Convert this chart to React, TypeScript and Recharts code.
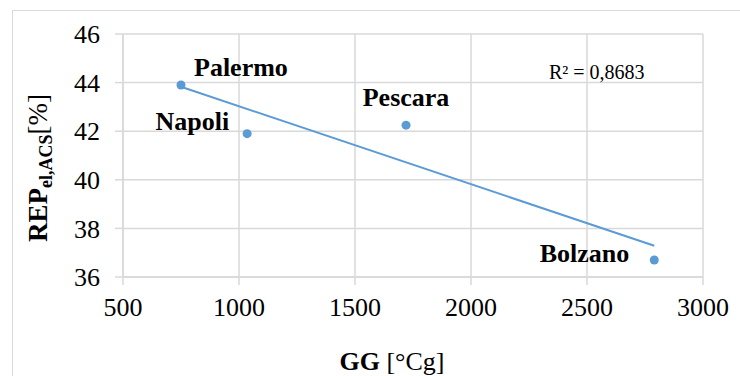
import {
  CartesianGrid,
  Label,
  ReferenceLine,
  Scatter,
  ScatterChart,
  XAxis,
  YAxis,
} from 'recharts';

const cities = ['Palermo', 'Napoli', 'Pescara', 'Bolzano'];
const degreeDays = [750, 1035, 1720, 2790];
const repValues = [43.9, 41.9, 42.25, 36.7];
const xTicks = [500, 1000, 1500, 2000, 2500, 3000];
const yTicks = [36, 38, 40, 42, 44, 46];
const rSquaredText = 'R² = 0,8683';

const data = cities.map((name, i) => ({ name, x: degreeDays[i], y: repValues[i] }));

// least squares trend line through the points
const n = degreeDays.length;
const meanX = degreeDays.reduce((s, v) => s + v, 0) / n;
const meanY = repValues.reduce((s, v) => s + v, 0) / n;
let sxy = 0;
let sxx = 0;
degreeDays.forEach((x, i) => {
  sxy += (x - meanX) * (repValues[i] - meanY);
  sxx += (x - meanX) * (x - meanX);
});
const slope = sxy / sxx;
const x0 = Math.min(...degreeDays);
const x1 = Math.max(...degreeDays);
const trend = [
  { x: x0, y: meanY + slope * (x0 - meanX) },
  { x: x1, y: meanY + slope * (x1 - meanX) },
];

const BLUE = '#5b9bd5';
const GRID = '#d9d9d9';
const FONT = '"Liberation Serif", "Times New Roman", serif';

const labelPos: Record<string, { dx: number; dy: number; anchor: 'start' | 'middle' | 'end' }> = {
  Palermo: { dx: 13, dy: -9, anchor: 'start' },
  Napoli: { dx: -18, dy: -4, anchor: 'end' },
  Pescara: { dx: 0, dy: -19, anchor: 'middle' },
  Bolzano: { dx: -25, dy: 2, anchor: 'end' },
};

function PointShape(props: any) {
  const { cx, cy, payload } = props;
  const p = labelPos[payload.name];
  return (
    <g>
      <circle cx={cx} cy={cy} r={4.5} fill={BLUE} />
      <text
        x={cx + p.dx}
        y={cy + p.dy}
        textAnchor={p.anchor}
        fontFamily={FONT}
        fontWeight="bold"
        fontSize={26}
        fill="#000"
      >
        {payload.name}
      </text>
    </g>
  );
}

function XTick(props: any) {
  const { x, y, payload } = props;
  return (
    <text x={x} y={y} dy="0.71em" textAnchor="middle" style={{ fontFamily: FONT }} fontSize={26} fill="#000">
      {payload.value}
    </text>
  );
}

function YTick(props: any) {
  const { x, y, payload } = props;
  return (
    <text x={x} y={y} dy="0.355em" textAnchor="end" style={{ fontFamily: FONT }} fontSize={26} fill="#000">
      {payload.value}
    </text>
  );
}

export default function App() {
  return (
    <div
      style={{
        position: 'relative',
        width: 740,
        height: 376,
        overflow: 'hidden',
        background: '#fff',
        fontFamily: FONT,
      }}
    >
      <style>{`body{margin:0} .recharts-wrapper svg text{font-family:${FONT} !important}`}</style>
      <div
        style={{
          position: 'absolute',
          left: 12,
          top: 10,
          width: 800,
          height: 400,
          border: `1.5px solid ${GRID}`,
        }}
      />
      <div style={{ position: 'absolute', left: 0, top: 0 }}>
        <ScatterChart
          width={740}
          height={376}
          margin={{ top: 34, right: 37, bottom: 39, left: 43 }}
          style={{ fontFamily: FONT }}
        >
          <CartesianGrid stroke={GRID} strokeWidth={1.5} />
          <XAxis
            type="number"
            dataKey="x"
            domain={[500, 3000]}
            ticks={xTicks}
            interval={0}
            height={60}
            stroke={GRID}
            strokeWidth={1.5}
            tickSize={8}
            tickMargin={13}
            tick={<XTick />}
          >
            <Label
              content={() => (
                <text x={392} y={370} textAnchor="middle" fontFamily={FONT} fontSize={26} fill="#000">
                  <tspan fontWeight="bold">GG</tspan>
                  <tspan> [°Cg]</tspan>
                </text>
              )}
            />
          </XAxis>
          <YAxis
            type="number"
            dataKey="y"
            domain={[36, 46]}
            ticks={yTicks}
            interval={0}
            width={80}
            stroke={GRID}
            strokeWidth={1.5}
            tickSize={8}
            tickMargin={15}
            tick={<YTick />}
          >
            <Label
              content={() => (
                <text
                  x={47}
                  y={168}
                  transform="rotate(-90 47 168)"
                  textAnchor="middle"
                  fontFamily={FONT}
                  fontSize={27}
                  fill="#000"
                >
                  <tspan fontWeight="bold">REP</tspan>
                  <tspan fontWeight="bold" fontSize={18} dy={5}>el,ACS</tspan>
                  <tspan dy={-5}>[%]</tspan>
                </text>
              )}
            />
          </YAxis>
          <ReferenceLine
            segment={trend}
            stroke={BLUE}
            strokeWidth={2}
            label={{
              content: () => (
                <text x={549} y={79} fontFamily={FONT} fontSize={20} fill="#000">
                  {rSquaredText}
                </text>
              ),
            }}
          />
          <Scatter data={data} shape={PointShape} isAnimationActive={false} />
        </ScatterChart>
      </div>
    </div>
  );
}
